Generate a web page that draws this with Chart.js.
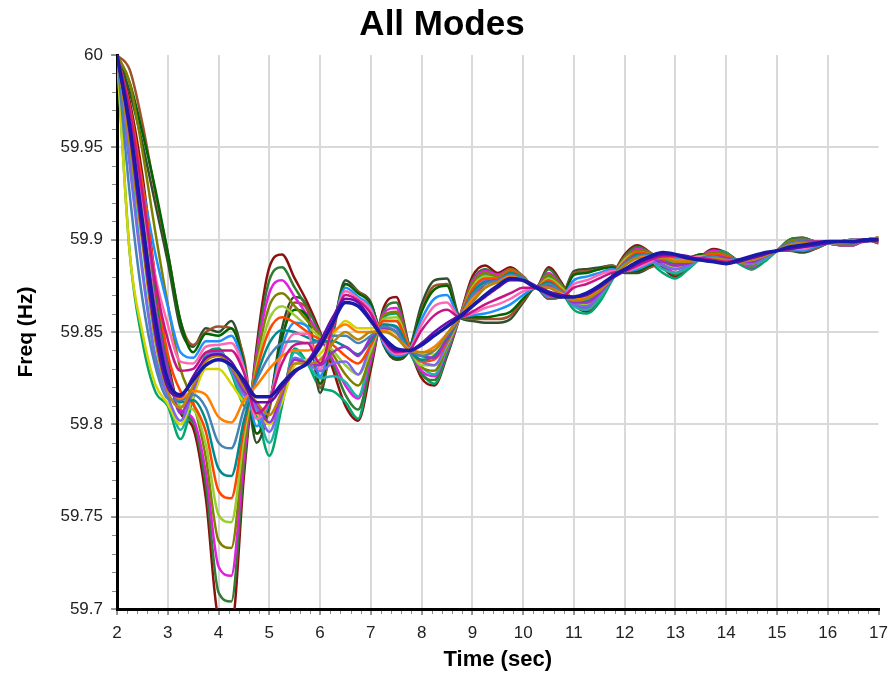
<!DOCTYPE html>
<html>
<head>
<meta charset="utf-8">
<title>All Modes</title>
<script src="https://cdn.jsdelivr.net/npm/chart.js@4.4.1/dist/chart.umd.min.js"></script>
<style>
  html, body { margin: 0; padding: 0; background: #fff; }
  #wrap { width: 896px; height: 674px; }
</style>
</head>
<body>
<div id="wrap"><canvas id="chart"></canvas></div>
<script>
// ====== DADOS (Hz a cada 0.25 s) ======
const times = [2,2.25,2.5,2.75,3,3.25,3.5,3.75,4,4.25,4.5,4.75,5,5.25,5.5,5.75,6,6.25,6.5,6.75,
  7,7.25,7.5,7.75,8,8.25,8.5,8.75,9,9.25,9.5,9.75,10,10.25,10.5,10.75,11,11.25,11.5,11.75,
  12,12.25,12.5,12.75,13,13.25,13.5,13.75,14,14.25,14.5,14.75,15,15.25,15.5,15.75,16,16.25,16.5,16.75,17];

const xTicks = [2,3,4,5,6,7,8,9,10,11,12,13,14,15,16,17];
const yTicks = [59.7,59.75,59.8,59.85,59.9,59.95,60];

const blue = [60,59.962,59.910,59.858,59.824,59.816,59.824,59.832,59.835,59.832,
  59.824,59.815,59.815,59.822,59.829,59.833,59.842,59.855,59.866,59.864,
  59.856,59.847,59.841,59.840,59.843,59.848,59.853,59.858,59.864,59.870,
  59.875,59.879,59.878,59.874,59.871,59.869,59.869,59.871,59.875,59.880,
  59.884,59.888,59.891,59.893,59.892,59.890,59.889,59.888,59.887,59.889,
  59.891,59.893,59.894,59.896,59.897,59.898,59.899,59.899,59.899,59.900,59.900];

const purple = [60,59.958,59.902,59.850,59.820,59.815,59.826,59.836,59.838,59.834,
  59.822,59.812,59.812,59.820,59.828,59.834,59.845,59.858,59.868,59.866,
  59.857,59.846,59.840,59.840,59.844,59.850,59.855,59.859,59.864,59.869,
  59.874,59.878,59.878,59.875,59.872,59.870,59.869,59.870,59.874,59.879,
  59.883,59.887,59.890,59.892,59.892,59.891,59.889,59.888,59.887,59.888,
  59.890,59.892,59.894,59.895,59.896,59.897,59.898,59.899,59.899,59.899,59.900];

const deep1 = [60,59.975,59.935,59.880,59.835,59.806,59.798,59.760,59.695,59.690,
  59.772,59.842,59.885,59.892,59.879,59.866,59.850,59.830,59.810,59.802,
  59.830,59.863,59.869,59.843,59.825,59.821,59.837,59.858,59.880,59.886,
  59.882,59.885,59.880,59.874,59.885,59.877,59.865,59.861,59.867,59.880,
  59.892,59.897,59.893,59.885,59.880,59.885,59.891,59.895,59.893,59.888,
  59.884,59.889,59.894,59.900,59.901,59.899,59.898,59.897,59.897,59.900,59.901];

const deep2 = [60,59.972,59.928,59.873,59.832,59.807,59.801,59.767,59.709,59.704,
  59.777,59.839,59.878,59.885,59.874,59.863,59.849,59.833,59.816,59.808,
  59.833,59.861,59.866,59.843,59.827,59.824,59.839,59.858,59.878,59.884,
  59.881,59.884,59.880,59.874,59.884,59.876,59.865,59.862,59.868,59.880,
  59.891,59.896,59.893,59.886,59.881,59.886,59.891,59.894,59.892,59.888,
  59.885,59.889,59.894,59.900,59.901,59.899,59.898,59.897,59.897,59.900,59.901];

const deep3 = [60,59.968,59.920,59.865,59.829,59.808,59.803,59.774,59.723,59.718,
  59.782,59.837,59.871,59.878,59.869,59.859,59.848,59.835,59.821,59.814,
  59.835,59.860,59.863,59.842,59.829,59.826,59.840,59.858,59.877,59.883,
  59.881,59.884,59.880,59.874,59.882,59.875,59.866,59.863,59.869,59.880,
  59.890,59.895,59.893,59.887,59.882,59.886,59.891,59.894,59.892,59.888,
  59.885,59.890,59.894,59.899,59.900,59.899,59.898,59.897,59.897,59.900,59.901];

const deep7 = [60,59.985,59.948,59.905,59.865,59.830,59.812,59.782,59.737,59.733,
  59.788,59.834,59.864,59.871,59.864,59.856,59.848,59.838,59.827,59.821,
  59.838,59.859,59.861,59.842,59.831,59.829,59.842,59.858,59.876,59.882,
  59.880,59.884,59.880,59.874,59.881,59.875,59.867,59.864,59.870,59.880,
  59.890,59.894,59.893,59.888,59.884,59.887,59.891,59.893,59.892,59.888,
  59.886,59.891,59.894,59.899,59.900,59.899,59.898,59.898,59.898,59.900,59.901];

const deep4 = [60,59.965,59.915,59.862,59.826,59.810,59.808,59.789,59.751,59.747,
  59.793,59.831,59.857,59.864,59.859,59.853,59.847,59.840,59.832,59.827,
  59.840,59.857,59.858,59.842,59.832,59.832,59.843,59.858,59.874,59.880,
  59.879,59.883,59.879,59.874,59.879,59.874,59.867,59.865,59.870,59.880,
  59.889,59.893,59.892,59.888,59.885,59.887,59.890,59.892,59.891,59.888,
  59.887,59.891,59.894,59.898,59.899,59.899,59.898,59.898,59.898,59.900,59.901];

const deepM = [60,59.972,59.930,59.880,59.838,59.818,59.811,59.796,59.764,59.760,
  59.798,59.829,59.851,59.858,59.855,59.850,59.846,59.843,59.837,59.833,
  59.843,59.856,59.856,59.842,59.834,59.835,59.845,59.858,59.873,59.879,
  59.879,59.883,59.879,59.874,59.878,59.873,59.867,59.866,59.871,59.880,
  59.888,59.893,59.892,59.889,59.886,59.888,59.890,59.892,59.891,59.889,
  59.888,59.891,59.894,59.898,59.899,59.899,59.899,59.898,59.898,59.900,59.901];

const deep5 = [60,59.960,59.908,59.856,59.824,59.812,59.813,59.802,59.776,59.772,
  59.802,59.826,59.844,59.851,59.850,59.847,59.845,59.845,59.842,59.838,
  59.845,59.854,59.853,59.841,59.835,59.837,59.846,59.858,59.871,59.877,
  59.878,59.882,59.879,59.874,59.877,59.872,59.867,59.867,59.872,59.880,
  59.887,59.892,59.892,59.890,59.887,59.888,59.890,59.891,59.890,59.889,
  59.888,59.891,59.894,59.898,59.899,59.898,59.899,59.898,59.898,59.900,59.900];

const deepS = [60,59.925,59.868,59.832,59.814,59.813,59.816,59.809,59.790,59.787,
  59.808,59.824,59.837,59.844,59.845,59.844,59.845,59.848,59.848,59.844,
  59.848,59.853,59.850,59.841,59.837,59.840,59.848,59.858,59.870,59.876,
  59.878,59.881,59.879,59.874,59.876,59.872,59.868,59.868,59.873,59.880,
  59.887,59.891,59.892,59.891,59.888,59.889,59.890,59.891,59.889,59.889,
  59.889,59.892,59.894,59.898,59.899,59.898,59.899,59.899,59.899,59.900,59.900];

const deep6 = [60,59.957,59.903,59.852,59.822,59.814,59.818,59.816,59.804,59.801,
  59.813,59.821,59.830,59.837,59.840,59.840,59.844,59.850,59.854,59.850,
  59.850,59.851,59.847,59.841,59.839,59.842,59.849,59.858,59.868,59.874,
  59.877,59.880,59.878,59.874,59.874,59.871,59.868,59.869,59.873,59.880,
  59.886,59.890,59.891,59.891,59.889,59.889,59.889,59.890,59.888,59.889,
  59.889,59.892,59.894,59.897,59.898,59.898,59.899,59.899,59.899,59.900,59.900];

const upper1 = [60,59.980,59.952,59.920,59.888,59.852,59.842,59.852,59.850,59.856,
  59.834,59.790,59.810,59.852,59.869,59.863,59.817,59.850,59.878,59.872,
  59.866,59.843,59.835,59.840,59.865,59.878,59.879,59.858,59.856,59.855,
  59.855,59.857,59.866,59.874,59.868,59.869,59.883,59.884,59.885,59.886,
  59.882,59.882,59.885,59.888,59.889,59.890,59.892,59.892,59.890,59.889,
  59.888,59.891,59.894,59.894,59.893,59.895,59.898,59.899,59.900,59.900,59.898];

const upperX = [60,59.985,59.958,59.928,59.893,59.856,59.839,59.849,59.848,59.852,
  59.833,59.795,59.811,59.847,59.862,59.858,59.822,59.851,59.876,59.871,
  59.865,59.844,59.836,59.840,59.861,59.873,59.875,59.858,59.858,59.858,
  59.859,59.861,59.868,59.874,59.869,59.869,59.881,59.882,59.884,59.885,
  59.883,59.883,59.886,59.889,59.890,59.890,59.892,59.892,59.890,59.889,
  59.889,59.892,59.894,59.895,59.894,59.896,59.898,59.899,59.900,59.900,59.899];

const upper2 = [60,59.970,59.930,59.893,59.864,59.839,59.836,59.845,59.845,59.848,
  59.831,59.799,59.812,59.842,59.855,59.853,59.826,59.852,59.874,59.869,
  59.863,59.844,59.837,59.840,59.857,59.868,59.870,59.858,59.859,59.860,
  59.862,59.865,59.870,59.874,59.869,59.869,59.878,59.880,59.882,59.884,
  59.883,59.884,59.887,59.890,59.890,59.890,59.891,59.891,59.889,59.889,
  59.889,59.892,59.894,59.895,59.894,59.896,59.898,59.899,59.900,59.900,59.899];

const upperY = [60,59.966,59.921,59.881,59.854,59.834,59.833,59.842,59.843,59.844,
  59.830,59.803,59.813,59.838,59.849,59.849,59.830,59.853,59.872,59.868,
  59.862,59.845,59.838,59.840,59.854,59.864,59.866,59.858,59.860,59.863,
  59.865,59.868,59.872,59.874,59.870,59.869,59.876,59.878,59.881,59.883,
  59.883,59.885,59.888,59.891,59.891,59.890,59.891,59.890,59.889,59.889,
  59.890,59.892,59.894,59.895,59.895,59.897,59.899,59.899,59.900,59.900,59.899];

const upper3 = [60,59.970,59.925,59.878,59.846,59.829,59.830,59.839,59.840,59.840,
  59.828,59.806,59.813,59.833,59.843,59.844,59.833,59.853,59.870,59.867,
  59.860,59.846,59.839,59.840,59.851,59.859,59.862,59.858,59.861,59.865,
  59.868,59.871,59.874,59.874,59.870,59.869,59.874,59.876,59.879,59.882,
  59.883,59.886,59.889,59.891,59.891,59.890,59.890,59.889,59.888,59.889,
  59.890,59.892,59.894,59.895,59.896,59.897,59.899,59.899,59.899,59.900,59.899];

const lower1 = [60,59.893,59.845,59.818,59.810,59.792,59.814,59.838,59.841,59.828,
  59.810,59.805,59.783,59.810,59.841,59.833,59.820,59.818,59.812,59.803,
  59.835,59.858,59.860,59.840,59.828,59.822,59.838,59.858,59.870,59.884,
  59.880,59.880,59.879,59.874,59.880,59.872,59.862,59.860,59.866,59.878,
  59.890,59.895,59.888,59.882,59.879,59.884,59.890,59.894,59.893,59.887,
  59.884,59.888,59.894,59.899,59.900,59.899,59.898,59.897,59.898,59.899,59.900];

const lowerX = [60,59.945,59.885,59.838,59.816,59.797,59.816,59.837,59.840,59.829,
  59.813,59.807,59.790,59.813,59.839,59.833,59.825,59.826,59.823,59.815,
  59.839,59.856,59.856,59.840,59.831,59.827,59.841,59.858,59.869,59.881,
  59.879,59.880,59.879,59.874,59.878,59.872,59.864,59.862,59.868,59.879,
  59.889,59.894,59.889,59.884,59.882,59.885,59.890,59.893,59.892,59.888,
  59.886,59.889,59.894,59.899,59.900,59.899,59.898,59.898,59.898,59.900,59.900];

const lower2 = [60,59.940,59.882,59.836,59.815,59.802,59.818,59.836,59.839,59.830,
  59.816,59.809,59.796,59.815,59.836,59.833,59.829,59.833,59.834,59.827,
  59.843,59.854,59.852,59.840,59.834,59.832,59.844,59.858,59.868,59.878,
  59.878,59.880,59.879,59.874,59.876,59.871,59.865,59.864,59.870,59.879,
  59.888,59.892,59.889,59.886,59.884,59.886,59.890,59.892,59.891,59.888,
  59.887,59.890,59.894,59.898,59.899,59.899,59.898,59.898,59.898,59.900,59.900];

const lowerY = [60,59.960,59.910,59.862,59.830,59.806,59.820,59.835,59.838,59.831,
  59.818,59.811,59.801,59.817,59.835,59.833,59.832,59.839,59.842,59.837,
  59.847,59.852,59.850,59.840,59.837,59.836,59.847,59.858,59.867,59.876,
  59.878,59.880,59.879,59.874,59.875,59.871,59.866,59.866,59.871,59.879,
  59.887,59.891,59.890,59.888,59.886,59.887,59.890,59.891,59.890,59.888,
  59.888,59.891,59.894,59.898,59.899,59.899,59.899,59.898,59.899,59.900,59.900];

const lower3 = [60,59.952,59.898,59.846,59.818,59.809,59.821,59.834,59.837,59.831,
  59.820,59.812,59.805,59.818,59.833,59.833,59.835,59.844,59.850,59.846,
  59.850,59.850,59.847,59.840,59.839,59.840,59.849,59.858,59.866,59.874,
  59.877,59.879,59.878,59.874,59.874,59.870,59.867,59.868,59.872,59.879,
  59.886,59.890,59.890,59.890,59.888,59.888,59.889,59.890,59.889,59.888,
  59.889,59.891,59.894,59.897,59.898,59.898,59.899,59.898,59.899,59.900,59.900];

const lateDrop = [60,59.992,59.963,59.926,59.893,59.856,59.843,59.850,59.853,59.852,
  59.836,59.795,59.808,59.846,59.866,59.862,59.820,59.848,59.876,59.872,
  59.865,59.845,59.836,59.840,59.862,59.875,59.876,59.858,59.857,59.857,
  59.857,59.859,59.867,59.874,59.868,59.869,59.882,59.883,59.884,59.886,
  59.883,59.883,59.885,59.888,59.889,59.890,59.892,59.892,59.890,59.889,
  59.888,59.891,59.894,59.894,59.894,59.895,59.898,59.899,59.900,59.900,59.898];

const earlyDrop = [60,59.893,59.850,59.822,59.811,59.800,59.815,59.830,59.830,59.822,
  59.812,59.806,59.800,59.812,59.832,59.835,59.838,59.848,59.856,59.852,
  59.852,59.852,59.849,59.841,59.838,59.838,59.847,59.858,59.867,59.876,
  59.877,59.879,59.879,59.874,59.875,59.871,59.866,59.866,59.871,59.879,
  59.887,59.891,59.890,59.889,59.886,59.887,59.890,59.891,59.890,59.888,
  59.888,59.891,59.894,59.897,59.898,59.898,59.898,59.898,59.898,59.900,59.900];

// ====== SÉRIES (a primeira fica por cima) ======
const series = [
  { data: blue,      color: '#1a1aa8', width: 3.5 },
  { data: purple,    color: '#6a0dad', width: 2.5 },
  { data: upper3,    color: '#c71585', width: 2.5 },
  { data: lower3,    color: '#b8860b', width: 2.5 },
  { data: deep6,     color: '#ff7f00', width: 2.5 },
  { data: deepS,     color: '#4682b4', width: 2.5 },
  { data: lowerY,    color: '#9932cc', width: 2.5 },
  { data: upperY,    color: '#ff69b4', width: 2.5 },
  { data: deep5,     color: '#008b8b', width: 2.5 },
  { data: deepM,     color: '#ff4500', width: 2.5 },
  { data: lower2,    color: '#7b68ee', width: 2.5 },
  { data: upper2,    color: '#1e90ff', width: 2.5 },
  { data: deep4,     color: '#9acd32', width: 2.5 },
  { data: earlyDrop, color: '#d4d400', width: 2.5 },
  { data: deep7,     color: '#808000', width: 2.5 },
  { data: lowerX,    color: '#20b2aa', width: 2.5 },
  { data: upperX,    color: '#006400', width: 2.5 },
  { data: deep3,     color: '#e020e0', width: 2.5 },
  { data: lateDrop,  color: '#a0522d', width: 2.5 },
  { data: deep2,     color: '#2e7d32', width: 2.5 },
  { data: upper1,    color: '#2f4f2f', width: 2.5 },
  { data: lower1,    color: '#00a86b', width: 2.5 },
  { data: deep1,     color: '#8b1010', width: 2.5 }
];

const datasets = series.map(s => ({
  data: times.map((t, i) => ({ x: t, y: s.data[i] })),
  borderColor: s.color,
  borderWidth: s.width,
  pointRadius: 0,
  fill: false,
  cubicInterpolationMode: 'monotone'
}));

// ====== TRACINHOS MENORES NOS EIXOS ======
const minorTicks = {
  id: 'minorTicks',
  afterDraw(chart) {
    const { ctx, chartArea: a } = chart;
    const x = chart.scales.x, y = chart.scales.y;
    ctx.save();
    ctx.strokeStyle = '#8c8c8c';
    ctx.lineWidth = 1;
    ctx.beginPath();
    for (let k = 0; k <= 30; k++) {
      const py = Math.round(y.getPixelForValue(59.7 + k * 0.01)) + 0.5;
      ctx.moveTo(a.left - 5, py);
      ctx.lineTo(a.left - 1, py);
    }
    for (let k = 0; k <= 75; k++) {
      const px = Math.round(x.getPixelForValue(2 + k * 0.2)) + 0.5;
      ctx.moveTo(px, a.bottom + 2);
      ctx.lineTo(px, a.bottom + 5);
    }
    ctx.stroke();
    ctx.restore();
  }
};

Chart.defaults.font.family = 'Arial, "Liberation Sans", sans-serif';

new Chart(document.getElementById('chart'), {
  type: 'line',
  data: { datasets },
  options: {
    responsive: true,
    maintainAspectRatio: false,
    animation: false,
    layout: { padding: { left: 0, right: 12, top: 0, bottom: 0 } },
    plugins: {
      legend: { display: false },
      tooltip: { enabled: false },
      title: {
        display: true,
        text: 'All Modes',
        color: '#000',
        font: { size: 35, weight: 'bold' },
        padding: { top: 4, bottom: 9 }
      }
    },
    scales: {
      x: {
        type: 'linear',
        min: 2,
        max: 17,
        afterBuildTicks: s => { s.ticks = xTicks.map(v => ({ value: v })); },
        afterFit: s => { s.height = 65; },
        ticks: { color: '#222', font: { size: 17 }, padding: 8, maxRotation: 0, autoSkip: false },
        grid: {
          color: c => (c.tick && c.tick.value === 17) ? 'rgba(0,0,0,0)' : '#d9d9d9',
          lineWidth: 2,
          tickLength: 6,
          tickColor: '#9a9a9a'
        },
        border: { color: '#000', width: 3 },
        title: {
          display: true,
          text: 'Time (sec)',
          color: '#000',
          font: { size: 22, weight: 'bold' },
          padding: { top: 0, bottom: 1 }
        }
      },
      y: {
        min: 59.7,
        max: 60,
        afterBuildTicks: s => { s.ticks = yTicks.map(v => ({ value: v })); },
        afterFit: s => { s.width = 117; },
        ticks: { color: '#222', font: { size: 17 }, padding: 8, callback: v => String(+v.toFixed(2)) },
        grid: {
          color: c => (c.tick && c.tick.value === 60) ? 'rgba(0,0,0,0)' : '#d9d9d9',
          lineWidth: 2,
          tickLength: 6,
          tickColor: '#9a9a9a'
        },
        border: { color: '#000', width: 3 },
        title: {
          display: true,
          text: 'Freq (Hz)',
          color: '#000',
          font: { size: 21, weight: 'bold' },
          padding: { top: 14 }
        }
      }
    }
  },
  plugins: [minorTicks]
});
</script>
</body>
</html>
